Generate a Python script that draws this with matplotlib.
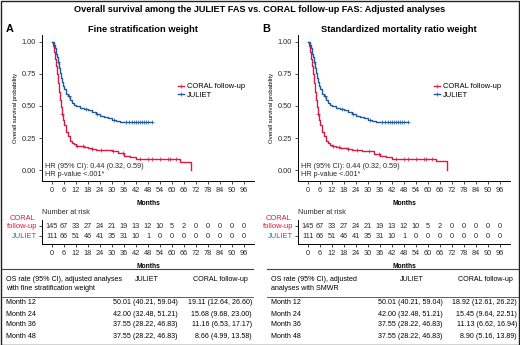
import numpy as np
import matplotlib
matplotlib.use("Agg")
import matplotlib.pyplot as plt
from matplotlib.lines import Line2D

plt.rcParams['font.family'] = ['Liberation Sans', 'DejaVu Sans']

# ---------------- data ----------------
months_ticks = list(range(0, 97, 6))

juliet_t = [0, 1, 1.5, 2, 2.5, 3, 3.5, 4, 4.5, 5, 5.5, 6, 7, 8, 9, 10, 11, 12, 14, 16, 18, 20, 22, 24, 26, 28, 30, 32, 34]
juliet_s = [1.0, 0.98, 0.95, 0.91, 0.88, 0.84, 0.80, 0.76, 0.72, 0.69, 0.66, 0.63, 0.59, 0.578, 0.55, 0.525, 0.51, 0.5001, 0.485, 0.475, 0.47, 0.455, 0.44, 0.42, 0.415, 0.41, 0.39, 0.385, 0.3755]
juliet_end = 50
juliet_cens = [3, 8.5, 17, 22.5, 31, 37, 38.5, 40, 41, 42, 43, 44, 45, 46, 47, 48, 50]

coral_t_a = [0, 0.5, 1, 1.5, 2, 2.5, 3, 3.5, 4, 4.5, 5, 5.5, 6, 7, 8, 9, 10, 11, 12, 14, 16, 18, 20, 22, 24, 27, 30, 33, 36, 39, 42, 64, 69.5]
coral_s_a = [1.0, 0.97, 0.92, 0.87, 0.81, 0.75, 0.68, 0.61, 0.55, 0.49, 0.44, 0.39, 0.35, 0.30, 0.265, 0.23, 0.21, 0.20, 0.1911, 0.185, 0.178, 0.172, 0.165, 0.16, 0.1568, 0.155, 0.148, 0.13, 0.1116, 0.10, 0.0866, 0.066, 0.0]
coral_s_b = [1.0, 0.97, 0.92, 0.87, 0.81, 0.75, 0.68, 0.61, 0.55, 0.49, 0.44, 0.39, 0.35, 0.30, 0.262, 0.228, 0.208, 0.198, 0.1892, 0.182, 0.175, 0.17, 0.162, 0.157, 0.1545, 0.152, 0.146, 0.128, 0.1113, 0.10, 0.089, 0.068, 0.0]
coral_end = 69.5
coral_cens = [5, 12.5, 15.5, 20, 24.5, 30.5, 35.5, 44, 48, 50, 54, 58, 59, 62]

risk_coral = [145, 67, 33, 27, 24, 21, 19, 13, 12, 10, 5, 2, 0, 0, 0, 0, 0]
risk_juliet = [111, 66, 51, 46, 41, 35, 31, 10, 1, 0, 0, 0, 0, 0, 0, 0, 0]

hr_text = ["HR (95% CI): 0.44 (0.32, 0.59)", "HR p-value <.001*"]

table_rows = ["Month 12", "Month 24", "Month 36", "Month 48"]
os_juliet = ["50.01 (40.21, 59.04)", "42.00 (32.48, 51.21)", "37.55 (28.22, 46.83)", "37.55 (28.22, 46.83)"]
os_coral_a = ["19.11 (12.64, 26.60)", "15.68 (9.68, 23.00)", "11.16 (6.53, 17.17)", "8.66 (4.99, 13.58)"]
os_coral_b = ["18.92 (12.61, 26.22)", "15.45 (9.64, 22.51)", "11.13 (6.62, 16.94)", "8.90 (5.16, 13.89)"]

RED = "#D81B40"
BLUE = "#1F5A9A"
BLUE_LBL = "#2C6BB0"
TICKC = "#2a2a2a"
FS = 5.3
TFS = 5.1

W, H = 520, 345
fig = plt.figure(figsize=(W / 100, H / 100), dpi=100)


def fx(x):
    return x / W


def fy(y):
    return 1 - y / H


def surv_at(times, surv, q):
    idx = np.searchsorted(np.asarray(times), np.asarray(q), side='right') - 1
    return np.asarray(surv)[idx]


def panel(off, letter, subtitle, coral_s, os_coral, header2):
    # main KM axes
    left, right, top, bottom = 42.4 + off, 253.6 + off, 35, 181
    ax = fig.add_axes([fx(left), fy(bottom), (right - left) / W, (bottom - top) / H])
    ax.set_xlim(-4.8, 100.8)
    ax.set_ylim(-11 / 128, 1 + 7 / 128)
    for sp in ['top', 'right']:
        ax.spines[sp].set_visible(False)
    for sp in ['left', 'bottom']:
        ax.spines[sp].set_linewidth(0.7)
    ax.set_xticks(months_ticks)
    ax.set_yticks([0, 0.25, 0.5, 0.75, 1.0])
    ax.set_yticklabels(["0.00", "0.25", "0.50", "0.75", "1.00"])
    ax.tick_params(labelsize=FS, length=2.2, width=0.6, pad=2.2, colors=TICKC)
    ax.set_xlabel("Months", fontsize=4.8, fontweight='bold', labelpad=4)
    ax.set_ylabel("Overall survival probability", fontsize=4.3, labelpad=3)

    # curves
    ax.step(list(coral_t_a) + [coral_end], list(coral_s) + [coral_s[-1]], where='post', color=RED, lw=1.0)
    ax.step(list(juliet_t) + [juliet_end], list(juliet_s) + [juliet_s[-1]], where='post', color=BLUE, lw=1.0)
    ax.plot(coral_cens, surv_at(coral_t_a, coral_s, coral_cens), '+', color=RED, ms=2.6, mew=0.5)
    ax.plot(juliet_cens, surv_at(juliet_t, juliet_s, juliet_cens), '+', color=BLUE, ms=2.6, mew=0.5)

    handles = [Line2D([], [], color=RED, lw=1.0, marker='+', ms=2.6, mew=0.5),
               Line2D([], [], color=BLUE, lw=1.0, marker='+', ms=2.6, mew=0.5)]
    ax.legend(handles, ["CORAL follow-up", "JULIET"], loc='upper left',
              bbox_to_anchor=(fx(178 + off), fy(83)), bbox_transform=fig.transFigure,
              frameon=False, fontsize=5.4, handlelength=0.8, handletextpad=0.4,
              labelspacing=0.2, borderpad=0, borderaxespad=0)

    ax.text(fx(45 + off), fy(166), hr_text[0], transform=fig.transFigure, fontsize=5.2, color=TICKC, va='center')
    ax.text(fx(45 + off), fy(175), hr_text[1], transform=fig.transFigure, fontsize=5.2, color=TICKC, va='center')

    fig.text(fx(6 + off), fy(29), letter, fontsize=7.8, fontweight='bold', va='center')
    fig.text(fx(143 + off), fy(29), subtitle, fontsize=6.7, fontweight='bold', va='center', ha='center')

    # risk table
    rtop, rbot = 220, 244
    rx = fig.add_axes([fx(left), fy(rbot), (right - left) / W, (rbot - rtop) / H])
    rx.set_xlim(-4.8, 100.8)
    rx.set_ylim(0.2, 2.6)
    for sp in ['top', 'right']:
        rx.spines[sp].set_visible(False)
    for sp in ['left', 'bottom']:
        rx.spines[sp].set_linewidth(0.7)
    rx.set_xticks(months_ticks)
    rx.set_yticks([1, 2])
    rx.set_yticklabels(["", ""])
    rx.tick_params(labelsize=FS, length=2.2, width=0.6, pad=2.2, colors=TICKC)
    rx.set_xlabel("Months", fontsize=4.8, fontweight='bold', labelpad=4.5)
    for t, v in zip(months_ticks, risk_coral):
        rx.text(t, 2, str(v), ha='center', va='center', fontsize=FS, color=TICKC)
    for t, v in zip(months_ticks, risk_juliet):
        rx.text(t, 1, str(v), ha='center', va='center', fontsize=FS, color=TICKC)
    fig.text(fx(42 + off), fy(213), "Number at risk", fontsize=FS, color=TICKC, va='center')
    fig.text(fx(37.5 + off), fy(222.5), "CORAL\nfollow-up", fontsize=5.4, color=RED, va='center',
             ha='right', multialignment='center', linespacing=1.15)
    fig.text(fx(37.5 + off), fy(236), "JULIET", fontsize=5.4, color=BLUE_LBL, va='center', ha='right')

    # OS table
    tl, tr = 2 + off, 253 + off
    if off > 0:
        tl, tr = 267, 518
    fig.add_artist(Line2D([fx(tl), fx(tr)], [fy(269), fy(269)], color='#444444', lw=0.8))
    fig.add_artist(Line2D([fx(tl), fx(tr)], [fy(296.5), fy(296.5)], color='#444444', lw=0.6))
    fig.text(fx(tl + 4), fy(279.5), header2[0], fontsize=TFS, va='center')
    fig.text(fx(tl + 4), fy(288), header2[1], fontsize=TFS, va='center')
    fig.text(fx(tl + 145), fy(279.5), "JULIET", fontsize=TFS, va='center', ha='center')
    fig.text(fx(tl + 218), fy(279.5), "CORAL follow-up", fontsize=TFS, va='center', ha='center')
    for i, (lab, vj, vc) in enumerate(zip(table_rows, os_juliet, os_coral)):
        y = 303 + i * 11
        fig.text(fx(tl + 4), fy(y), lab, fontsize=TFS, va='center')
        fig.text(fx(tl + 111), fy(y), vj, fontsize=TFS, va='center')
        fig.text(fx(tl + 250), fy(y), vc, fontsize=TFS, va='center', ha='right')


panel(0, "A", "Fine stratification weight", coral_s_a, os_coral_a,
      ["OS rate (95% CI), adjusted analyses", "with fine stratification weight"])
panel(256, "B", "Standardized mortality ratio weight", coral_s_b, os_coral_b,
      ["OS rate (95% CI), adjusted", "analyses with SMWR"])

fig.text(0.5, fy(10), "Overall survival among the JULIET FAS vs. CORAL follow-up FAS: Adjusted analyses",
         ha='center', va='center', fontsize=6.6, fontweight='bold')

# figure border
fig.add_artist(plt.Rectangle((0.5 / W, 0.5 / H), 1 - 1.5 / W, 1 - 1.5 / H, transform=fig.transFigure,
                             fill=False, edgecolor='#222222', lw=1.0))

fig.savefig("out.png", dpi=100)
